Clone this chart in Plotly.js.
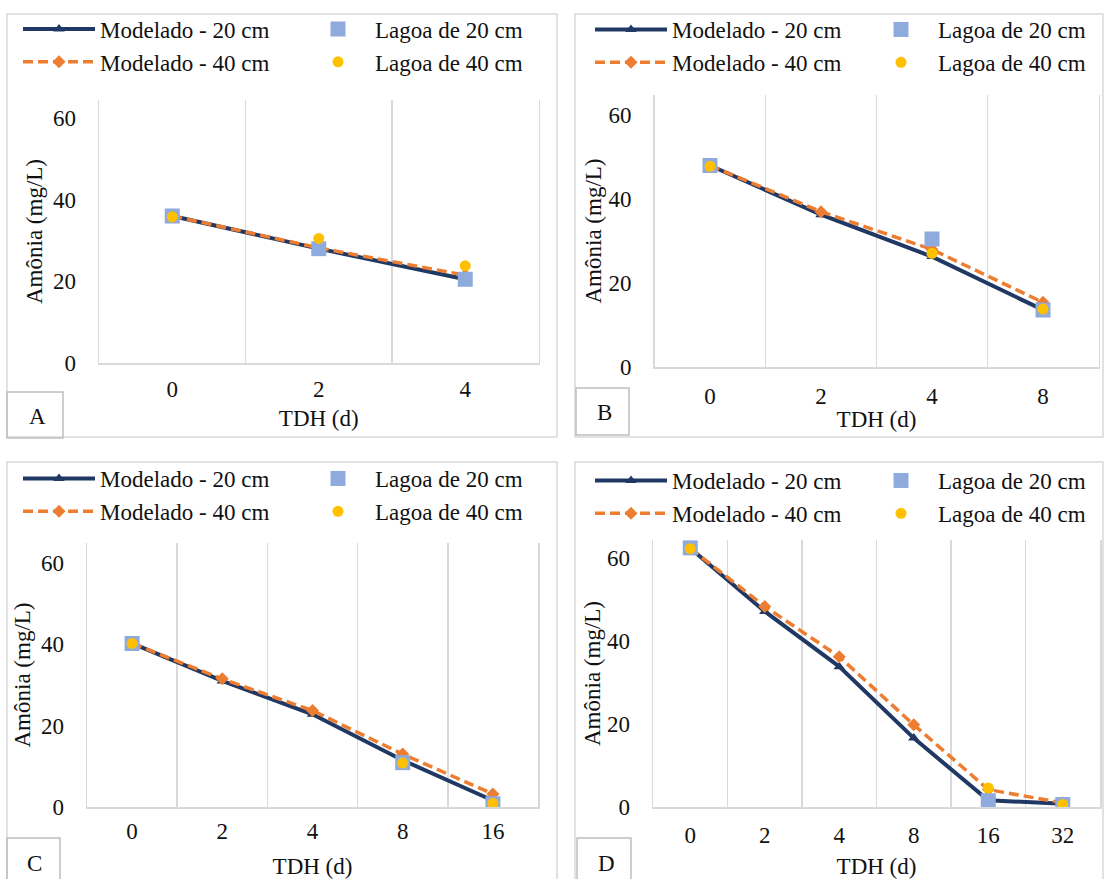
<!DOCTYPE html>
<html>
<head>
<meta charset="utf-8">
<script src="https://cdn.plot.ly/plotly-3.0.1.min.js"></script>
<style>
html,body{margin:0;padding:0;background:#fff;}
#chart{width:1104px;height:879px;}
</style>
</head>
<body>
<div id="chart"></div>
<script>
// ---------------- data ----------------
const catsA = ['0', '2', '4'];
const catsB = ['0', '2', '4', '8'];
const catsC = ['0', '2', '4', '8', '16'];
const catsD = ['0', '2', '4', '8', '16', '32'];

const mod20A = [36, 28, 20.5];
const mod40A = [36, 28.2, 21.5];
const lag20A = [36, 28, 20.5];
const lag40A = [35.8, 30.5, 23.8];

const mod20B = [48, 36.3, 26.3, 13.6];
const mod40B = [48, 37, 28, 15.4];
const lag20B = [48, null, 30.5, 13.6];
const lag40B = [47.8, null, 27.1, 13.8];

const mod20C = [40.2, 31, 22.8, 11.5, 1.6];
const mod40C = [40.2, 31.5, 23.7, 13, 3.2];
const lag20C = [40.2, null, null, 10.9, 0.8];
const lag40C = [40.2, null, null, 10.8, 0.9];

const mod20D = [62.3, 47.1, 33.8, 16.6, 1.6, 0.8];
const mod40D = [62.3, 48.3, 36.2, 19.8, 4.2, 1.0];
const lag20D = [62.4, null, null, null, 1.5, 0.6];
const lag40D = [62.2, null, null, null, 4.6, 0.6];

const seriesNames = ['Modelado - 20 cm', 'Modelado - 40 cm', 'Lagoa de 20 cm', 'Lagoa de 40 cm'];
const panelLabels = ['A', 'B', 'C', 'D'];
const xTitle = 'TDH (d)';
const yTitle = 'Amônia (mg/L)';
const yTicks = [0, 20, 40, 60];

// ---------------- styling ----------------
const W = 1104, H = 879;
const px = v => v / W;
const py = v => 1 - v / H;
const FONT = 'Liberation Serif';
const NAVY = '#203864', ORANGE = '#ED7D31', LBLUE = '#8FAADC', GOLD = '#FFC000';
const GRID = '#d9d9d9';
const TXT = '#111111';

const panels = [
  {cats: catsA, m20: mod20A, m40: mod40A, l20: lag20A, l40: lag40A, ax: '', dom: [99, 538.5, 100, 363], ymax: 64.4,
   leg1: [18, 7.5], leg2: [301, 7.5], xlso: 5, xst: 9, yst: 4},
  {cats: catsB, m20: mod20B, m40: mod40B, l20: lag20B, l40: lag40B, ax: '2', dom: [654.5, 1098.5, 95, 367], ymax: 64.8,
   leg1: [590, 8], leg2: [864, 8], xlso: 8, xst: 3, yst: 0},
  {cats: catsC, m20: mod20C, m40: mod40C, l20: lag20C, l40: lag40C, ax: '3', dom: [87, 538, 543, 807], ymax: 64.9,
   leg1: [18, 457], leg2: [301, 457], xlso: 3, xst: 15, yst: 4},
  {cats: catsD, m20: mod20D, m40: mod40D, l20: lag20D, l40: lag40D, ax: '4', dom: [653, 1100, 540, 807], ymax: 64.3,
   leg1: [590, 459], leg2: [864, 459], xlso: 7, xst: 11, yst: 0}
];

const traces = [];
const layout = {
  width: W, height: H,
  margin: {l: 0, r: 0, t: 0, b: 0},
  paper_bgcolor: '#ffffff', plot_bgcolor: '#ffffff',
  font: {family: FONT, size: 23, color: TXT},
  hovermode: false,
  shapes: [], annotations: []
};

panels.forEach((p, i) => {
  const xa = 'x' + p.ax, ya = 'y' + p.ax;
  const lg1 = 'legend' + (i === 0 ? '' : String(2 * i + 1));
  const lg2 = 'legend' + String(2 * i + 2);
  traces.push({
    type: 'scatter', mode: 'lines+markers', name: seriesNames[0], x: p.cats, y: p.m20,
    xaxis: xa, yaxis: ya, legend: lg1,
    line: {color: NAVY, width: 4},
    marker: {symbol: 'triangle-up', size: 10, color: NAVY}
  });
  traces.push({
    type: 'scatter', mode: 'lines+markers', name: seriesNames[1], x: p.cats, y: p.m40,
    xaxis: xa, yaxis: ya, legend: lg1,
    line: {color: ORANGE, width: 3.5, dash: '10px,5px'},
    marker: {symbol: 'diamond', size: 10, color: ORANGE}
  });
  traces.push({
    type: 'scatter', mode: 'markers', name: seriesNames[2], x: p.cats, y: p.l20,
    xaxis: xa, yaxis: ya, legend: lg2,
    marker: {symbol: 'square', size: 15, color: LBLUE}
  });
  traces.push({
    type: 'scatter', mode: 'markers', name: seriesNames[3], x: p.cats, y: p.l40,
    xaxis: xa, yaxis: ya, legend: lg2,
    marker: {symbol: 'circle', size: 11, color: GOLD}
  });

  const xk = 'xaxis' + p.ax, yk = 'yaxis' + p.ax;
  layout[xk] = {
    type: 'category', categoryorder: 'array', categoryarray: p.cats,
    range: [-0.5, p.cats.length - 0.5],
    domain: [px(p.dom[0]), px(p.dom[1])], anchor: ya,
    tickson: 'boundaries', ticks: 'outside', ticklen: 18, tickcolor: 'rgba(0,0,0,0)',
    ticklabelstandoff: p.xlso,
    showgrid: true, gridcolor: GRID, gridwidth: 1.5,
    showline: true, linecolor: GRID, linewidth: 1.5,
    zeroline: false, fixedrange: true,
    tickfont: {family: FONT, size: 23, color: TXT},
    title: {text: xTitle, font: {family: FONT, size: 23, color: TXT}, standoff: p.xst}
  };
  layout[yk] = {
    range: [0, p.ymax], domain: [py(p.dom[3]), py(p.dom[2])], anchor: xa,
    tickvals: yTicks, ticks: 'outside', ticklen: 17, tickcolor: 'rgba(0,0,0,0)',
    showgrid: false, zeroline: false,
    showline: true, mirror: true, linecolor: GRID, linewidth: 1.5,
    fixedrange: true,
    tickfont: {family: FONT, size: 23, color: TXT},
    title: {text: yTitle, font: {family: FONT, size: 23, color: TXT}, standoff: p.yst}
  };

  const legBase = {
    xanchor: 'left', yanchor: 'top', orientation: 'v',
    bgcolor: 'rgba(0,0,0,0)', borderwidth: 0, tracegroupgap: 0,
    font: {family: FONT, size: 23, color: TXT}
  };
  layout[lg1] = Object.assign({}, legBase, {x: px(p.leg1[0]), y: py(p.leg1[1]), itemwidth: 72});
  layout[lg2] = Object.assign({}, legBase, {x: px(p.leg2[0]), y: py(p.leg2[1]), itemwidth: 64});
});

// panel frames and label boxes
const frames = [[7, 14, 557, 437], [575, 14, 1103, 437], [7, 462, 557, 890], [575, 462, 1103, 890]];
const boxes = [[7, 392, 63, 438], [576, 388, 629, 435], [7, 838, 60, 890], [577, 838, 631, 890]];
const labelPos = [[37, 417], [604, 413], [34, 863], [606, 863]];
frames.forEach(f => layout.shapes.push({
  type: 'rect', xref: 'paper', yref: 'paper', x0: px(f[0]), x1: px(f[2]), y0: py(f[3]), y1: py(f[1]),
  line: {color: GRID, width: 1.5}, fillcolor: 'rgba(0,0,0,0)', layer: 'below'
}));
boxes.forEach(b => layout.shapes.push({
  type: 'rect', xref: 'paper', yref: 'paper', x0: px(b[0]), x1: px(b[2]), y0: py(b[3]), y1: py(b[1]),
  line: {color: '#bfbfbf', width: 1.5}, fillcolor: 'rgba(0,0,0,0)', layer: 'above'
}));
labelPos.forEach((lp, i) => layout.annotations.push({
  xref: 'paper', yref: 'paper', x: px(lp[0]), y: py(lp[1]), xanchor: 'center', yanchor: 'middle',
  text: panelLabels[i], showarrow: false, font: {family: FONT, size: 23, color: TXT}
}));

Plotly.newPlot('chart', traces, layout, {staticPlot: true, displayModeBar: false});
</script>
</body>
</html>
